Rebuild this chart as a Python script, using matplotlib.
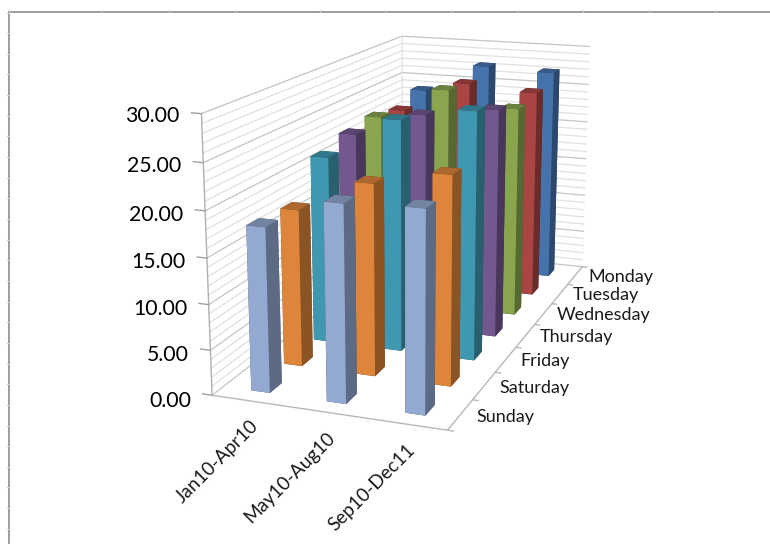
import numpy as np
import matplotlib
matplotlib.use("Agg")
import matplotlib.pyplot as plt
from matplotlib.lines import Line2D
from mpl_toolkits.mplot3d import Axes3D

plt.rcParams['font.family'] = ['Lato', 'DejaVu Sans']

periods = ["Jan10-Apr10", "May10-Aug10", "Sep10-Dec11"]
days = ["Sunday", "Saturday", "Friday", "Thursday", "Wednesday", "Tuesday", "Monday"]
sunday = [18.1, 21.4, 21.7]
saturday = [17.8, 21.5, 23.2]
friday = [21.8, 26.7, 28.3]
thursday = [22.8, 25.7, 26.9]
wednesday = [23.3, 27.2, 25.5]
tuesday = [22.6, 26.6, 26.0]
monday = [23.8, 27.5, 27.2]
values = [sunday, saturday, friday, thursday, wednesday, tuesday, monday]

z_ticks = [0, 5, 10, 15, 20, 25, 30]
colors = ["#94A9D1", "#DC853B", "#4098B0", "#72588F", "#89A64E", "#A94643", "#4673AC"]

W, H = 770, 544
BAR_W = 0.25
BAR_D = 0.36

fig = plt.figure(figsize=(W / 100, H / 100), dpi=100, facecolor="white")
ax = fig.add_axes([0, 0, 1, 1], projection="3d")
ax.set_xlim(0, 3)
ax.set_ylim(0, 7)
ax.set_zlim(0, 30)
ax.set_xticks([])
ax.set_yticks([])
ax.set_zticks([])
ax.set_axis_off()
ax.computed_zorder = False


# camera set up from where the corners of the plot box land on the canvas
def camera_matrix():
    world = [(0, 0, 0), (3, 0, 0), (3, 7, 0), (0, 7, 0), (0, 0, 30), (0, 7, 30), (3, 7, 30)]
    canvas = [(212, 397), (447, 429), (582, 268), (403, 246), (202, 113), (401, 37), (590, 46)]
    rows = []
    for (x, y, z), (u, v) in zip(world, canvas):
        v = H - v
        rows.append([x, y, z, 1, 0, 0, 0, 0, -u * x, -u * y, -u * z, -u])
        rows.append([0, 0, 0, 0, x, y, z, 1, -v * x, -v * y, -v * z, -v])
    p = np.linalg.svd(np.array(rows, dtype=float))[2][-1].reshape(3, 4)
    if p[2, 3] < 0:
        p = -p
    p = p / p[2, 3]
    return np.array([p[0], p[1], [0, 0, 0, -1], p[2]])


CAMERA = camera_matrix()


def get_proj():
    t = ax.transData.get_matrix()
    lift = np.array([[t[0, 0], 0, 0, t[0, 2]],
                     [0, t[1, 1], 0, t[1, 2]],
                     [0, 0, 1, 0],
                     [0, 0, 0, 1]])
    return np.linalg.inv(lift) @ CAMERA


ax.get_proj = get_proj


# figure fraction of a point in data coordinates, used to place the labels
def to_fig(x, y, z):
    px = CAMERA @ np.array([x, y, z, 1.0])
    return px[0] / px[3] / W, px[1] / px[3] / H


def shade(color, k):
    r, g, b = matplotlib.colors.to_rgb(color)
    return (r * k, g * k, b * k)


# walls and gridlines
for z in range(0, 31):
    c = "#C4C4C4" if z % 5 == 0 else "#E0E0E0"
    ax.plot([0, 0, 3], [0, 7, 7], [z, z, z], color=c, lw=0.9, zorder=1)
ax.plot([0, 0], [0, 0], [0, 30], color="#B0B0B0", lw=1, zorder=1)
ax.plot([0, 0], [7, 7], [0, 30], color="#E0E0E0", lw=0.9, zorder=1)
ax.plot([0, 3, 3], [0, 0, 7], [0, 0, 0], color="#B8B8B8", lw=1, zorder=1)

for z in z_ticks:
    ax.plot([-0.13, 0], [0, 0], [z, z], color="#A0A0A0", lw=1, zorder=1)
    fx, fy = to_fig(-0.16, -0.25, z)
    fig.text(fx, fy, f"{z:.2f}", fontsize=15.3, ha="right", va="center", color="black")
for i in range(8):
    ax.plot([3, 3.07], [i, i], [0, 0], color="#B8B8B8", lw=1, zorder=1)

# bars, back row first and left to right inside a row
for row in range(len(days) - 1, -1, -1):
    for col in range(len(periods)):
        c = colors[row]
        faces = [shade(c, 0.5), shade(c, 0.78), c, shade(c, 0.5), shade(c, 0.5), shade(c, 0.63)]
        ax.bar3d(col + 0.5 - BAR_W / 2, row + 0.5 - BAR_D / 2, 0, BAR_W, BAR_D, values[row][col],
                 color=faces, shade=False, linewidth=0, zorder=10 + (6 - row) * 3 + col)

for i, d in enumerate(days):
    fx, fy = to_fig(3.2, i + 0.5, 0)
    fig.text(fx, fy, d, fontsize=13, ha="left", va="center", color="#1A1A1A")
for i, p in enumerate(periods):
    fx, fy = to_fig(i + 0.5, 0, -1.8)
    fig.text(fx, fy, p, fontsize=13.5, rotation=45, ha="right", va="top",
             rotation_mode="anchor", color="#1A1A1A")

# sheet frame with its faint tick marks
fig.add_artist(Line2D([9 / W, 9 / W], [0, 1 - 12 / H], color="#8C8C8C", lw=1.2))
fig.add_artist(Line2D([9 / W, 1], [1 - 12 / H, 1 - 12 / H], color="#8C8C8C", lw=1.2))
for y in np.arange(12.5, H, 20.65):
    fig.add_artist(Line2D([7 / W, 9 / W], [1 - y / H, 1 - y / H], color="#D0D0D0", lw=0.8))
for x in [9, 101, 169, 236, 320, 386, 451, 517, 583, 649, 716]:
    fig.add_artist(Line2D([x / W, x / W], [1 - 10 / H, 1 - 12 / H], color="#D0D0D0", lw=0.8))

fig.savefig("out.png", dpi=100)
